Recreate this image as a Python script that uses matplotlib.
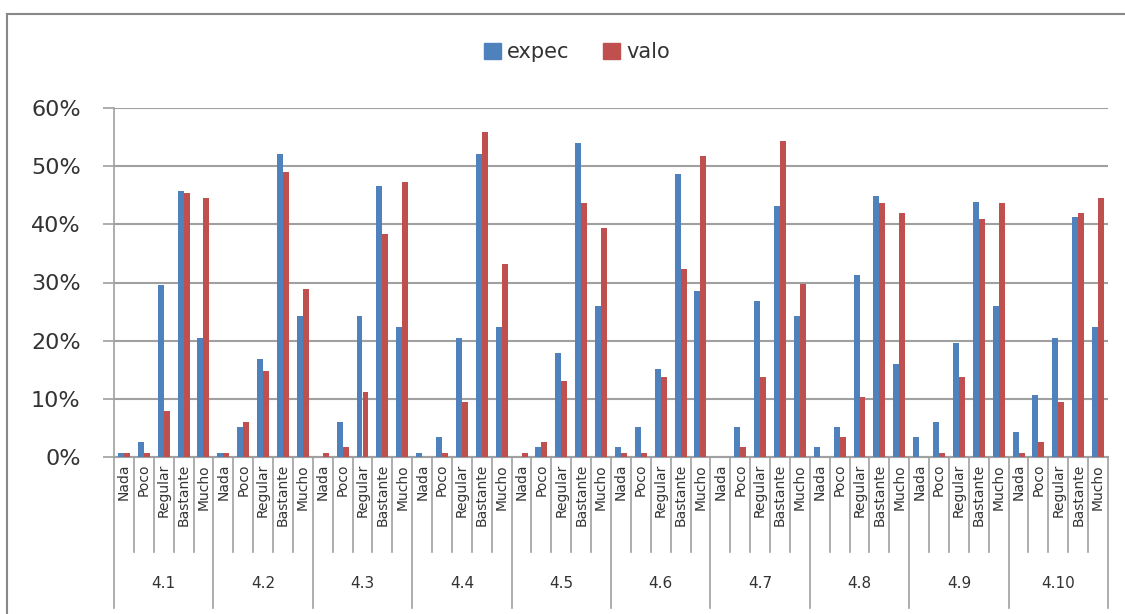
import numpy as np
import matplotlib
matplotlib.use('Agg')
import matplotlib.pyplot as plt
from matplotlib.lines import Line2D
from matplotlib.patches import Patch

# datos (en %)
grupos = ['4.1', '4.2', '4.3', '4.4', '4.5', '4.6', '4.7', '4.8', '4.9', '4.10']
categorias = ['Nada', 'Poco', 'Regular', 'Bastante', 'Mucho']

expec = [0.75, 2.6, 29.5, 45.7, 20.5,
         0.75, 5.2, 16.9, 52.1, 24.2,
         0.0, 6.1, 24.2, 46.6, 22.4,
         0.75, 3.4, 20.5, 52.1, 22.4,
         0.0, 1.7, 17.8, 53.9, 26.0,
         1.7, 5.2, 15.2, 48.6, 28.6,
         0.0, 5.2, 26.9, 43.1, 24.2,
         1.7, 5.2, 31.3, 44.8, 16.0,
         3.4, 6.1, 19.6, 43.9, 26.0,
         4.3, 10.7, 20.5, 41.2, 22.4]
valo = [0.75, 0.75, 7.9, 45.4, 44.6,
        0.75, 6.1, 14.7, 49.0, 28.9,
        0.75, 1.7, 11.2, 38.4, 47.2,
        0.0, 0.75, 9.4, 55.9, 33.1,
        0.75, 2.6, 13.1, 43.7, 39.3,
        0.75, 0.75, 13.8, 32.4, 51.7,
        0.0, 1.7, 13.8, 54.3, 29.7,
        0.0, 3.4, 10.3, 43.7, 41.9,
        0.0, 0.75, 13.8, 41.0, 43.7,
        0.75, 2.6, 9.4, 41.9, 44.6]

azul = '#4F81BD'
rojo = '#C0504D'
gris = '#A0A0A0'
texto = '#333333'

fig = plt.figure(figsize=(11.25, 6.14), dpi=100)
ax = fig.add_axes([114 / 1125, 1 - 457 / 614, (1108 - 114) / 1125, (457 - 108) / 614])

n = len(expec)
x = np.arange(n)
w = 0.3
ax.bar(x - w / 2, np.array(expec) / 100, w, color=azul, edgecolor='none', zorder=3)
ax.bar(x + w / 2, np.array(valo) / 100, w, color=rojo, edgecolor='none', zorder=3)

ax.set_xlim(-0.5, n - 0.5)
ax.set_ylim(0, 0.6)
yt = np.arange(0, 0.61, 0.1)
ax.set_yticks(yt)
ax.set_yticklabels([f'{int(round(v * 100))}%' for v in yt], fontsize=16, color=texto)
ax.tick_params(axis='y', length=8, width=1.2, color=gris, pad=16)
ax.set_xticks([])
ax.grid(axis='y', color=gris, linewidth=1.5, zorder=0)
for s in ['top', 'right']:
    ax.spines[s].set_visible(False)
ax.spines['left'].set_color(gris)
ax.spines['left'].set_linewidth(1.2)
ax.spines['bottom'].set_color(gris)
ax.spines['bottom'].set_linewidth(1.5)

# ejes de categorias en dos niveles
trans = ax.get_xaxis_transform()
h_cat = -(552 - 457) / 349
h_grp = -(608 - 457) / 349
for k in range(n + 1):
    yb = h_grp if k % 5 == 0 else h_cat
    ax.add_line(Line2D([k - 0.5, k - 0.5], [0, yb], transform=trans, color=gris,
                       linewidth=1.2, clip_on=False))
for i in range(n):
    ax.text(i, -0.02, categorias[i % 5], transform=trans, rotation=90, ha='center',
            va='top', fontsize=10, color=texto)
for g, nombre in enumerate(grupos):
    ax.text(g * 5 + 2, -(583 - 457) / 349, nombre, transform=trans, ha='center',
            va='center', fontsize=11, color=texto)

# leyenda
handles = [Patch(color=azul, label='expec'), Patch(color=rojo, label='valo')]
fig.legend(handles=handles, loc='center', bbox_to_anchor=(577 / 1125, 1 - 52 / 614), ncol=2,
           frameon=False, fontsize=15, handlelength=0.8, handleheight=0.8,
           handletextpad=0.3, columnspacing=1.6, labelcolor=texto)

# borde del area del grafico
fig.add_artist(Line2D([7 / 1125, 1], [1 - 14 / 614, 1 - 14 / 614], color='#888888', linewidth=1.5))
fig.add_artist(Line2D([7 / 1125, 7 / 1125], [0, 1 - 14 / 614], color='#888888', linewidth=1.5))

fig.savefig('out.png', dpi=100)
